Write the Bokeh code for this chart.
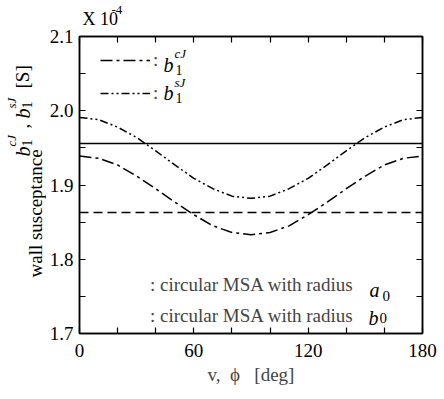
import math
from bokeh.plotting import figure
from bokeh.layouts import row, column
from bokeh.models import (Range1d, FixedTicker, LinearAxis, PrintfTickFormatter,
                          Span, Label, Legend, LegendItem)
from bokeh.embed import file_html
from bokeh.resources import INLINE

# ---- data (values in units of 1e-4 S) ----
phi_deg = [0, 10, 20, 30, 40, 50, 60, 70, 80, 90, 100, 110, 120, 130, 140, 150, 160, 170, 180]
b1_cJ = [1.939, 1.936, 1.927, 1.912, 1.895, 1.877, 1.860, 1.845, 1.836, 1.833,
         1.836, 1.845, 1.860, 1.877, 1.895, 1.912, 1.927, 1.936, 1.939]
b1_sJ = [1.991, 1.988, 1.978, 1.964, 1.946, 1.927, 1.909, 1.895, 1.885, 1.882,
         1.885, 1.895, 1.909, 1.927, 1.946, 1.964, 1.978, 1.988, 1.991]
msa_a0 = 1.956
msa_b0 = 1.863

x_major = [0, 60, 120, 180]
x_minor = [20, 40, 80, 100, 140, 160]
y_major = [1.7, 1.8, 1.9, 2.0, 2.1]
y_minor = [1.75, 1.85, 1.95, 2.05]

FL, FT, FW, FH = 79, 36, 343, 297   # frame left/top/width/height (page px)
W, H = 444, 398
TOPH = 26      # height of the top text strip
LW = 46        # width of the left text strip
FONT = "Liberation Serif"
DY = 6         # baseline correction


def blank_fig(w, h):
    f = figure(width=w, height=h, output_backend="svg", toolbar_location=None,
               x_axis_type=None, y_axis_type=None, min_border=0,
               x_range=Range1d(0, 1), y_range=Range1d(0, 1))
    f.grid.visible = False
    f.outline_line_color = None
    f.background_fill_color = "white"
    f.border_fill_color = "white"
    return f


top_fig = blank_fig(W, TOPH)
left_fig = blank_fig(LW, H - TOPH)

p = figure(width=W - LW, height=H - TOPH, output_backend="svg", toolbar_location=None,
           x_range=Range1d(0, 180), y_range=Range1d(1.7, 2.1),
           min_border_left=FL - LW, min_border_right=W - FL - FW,
           min_border_top=FT - TOPH, min_border_bottom=H - FT - FH,
           background_fill_color="white", border_fill_color="white")
p.grid.visible = False
p.outline_line_color = "black"
p.outline_line_width = 1.5


def style_axis(ax, labels=True):
    ax.axis_line_color = "black"
    ax.axis_line_width = 1.5
    ax.major_tick_in = 6
    ax.major_tick_out = 0
    ax.minor_tick_in = 6
    ax.minor_tick_out = 0
    ax.major_tick_line_width = 1.2
    ax.minor_tick_line_width = 1.2
    ax.major_label_text_font = FONT
    ax.major_label_text_font_size = "19px"
    ax.major_label_text_color = "black"
    if not labels:
        ax.major_label_text_font_size = "0px"
        ax.major_label_text_alpha = 0
        ax.major_label_standoff = 0


p.xaxis.ticker = FixedTicker(ticks=x_major, minor_ticks=x_minor)
p.yaxis.ticker = FixedTicker(ticks=y_major, minor_ticks=y_minor)
p.yaxis.formatter = PrintfTickFormatter(format="%.1f")
p.xaxis.formatter = PrintfTickFormatter(format="%d")
style_axis(p.xaxis[0])
style_axis(p.yaxis[0])
p.xaxis.major_label_standoff = 10
p.yaxis.major_label_standoff = 6
p.xaxis.axis_label = "v,\u00a0\u00a0\u03d5\u00a0\u00a0\u00a0[deg]"
p.xaxis.axis_label_text_font = FONT
p.xaxis.axis_label_text_font_style = "normal"
p.xaxis.axis_label_text_font_size = "19px"
p.xaxis.axis_label_standoff = 4

top = LinearAxis(ticker=FixedTicker(ticks=x_major, minor_ticks=x_minor))
style_axis(top, labels=False)
p.add_layout(top, "above")
right = LinearAxis(ticker=FixedTicker(ticks=y_major, minor_ticks=y_minor))
style_axis(right, labels=False)
p.add_layout(right, "right")

# ---- curves ----
r_cJ = p.line(phi_deg, b1_cJ, line_color="black", line_width=1.5, line_dash="12 4 3 4")
r_sJ = p.line(phi_deg, b1_sJ, line_color="black", line_width=1.5, line_dash="8 3 2 3 2 3")
p.add_layout(Span(location=msa_a0, dimension="width", line_color="black", line_width=1.5))
p.add_layout(Span(location=msa_b0, dimension="width", line_color="black", line_width=1.5,
                  line_dash="9 5"))

# legend proxies for horizontal lines
r_a0 = p.line([], [], line_color="black", line_width=1.5)
r_b0 = p.line([], [], line_color="black", line_width=1.5, line_dash="9 5")


def make_legend(items, loc, spacing, gw):
    lg = Legend(items=items, location=loc, orientation="vertical",
                padding=0, margin=0, spacing=spacing,
                glyph_width=gw, glyph_height=20, label_height=20,
                label_standoff=3, label_text_font=FONT, label_text_font_size="19px",
                border_line_alpha=0, background_fill_alpha=0)
    p.add_layout(lg, "center")


make_legend([LegendItem(label=":", renderers=[r_cJ]),
             LegendItem(label=":", renderers=[r_sJ])], (21, 229), 11, 50)
make_legend([LegendItem(label=": circular MSA with radius", renderers=[r_a0]),
             LegendItem(label=": circular MSA with radius", renderers=[r_b0])], (21, 6), 9, 47)


def lab(fig, ox, oy, px, py, text, size, italic=False, angle=0.0):
    # page coords (origin top-left) -> canvas units of the given figure
    if angle:
        px -= DY
    else:
        py -= DY
    fig.add_layout(Label(x=px - ox, y=py - oy, x_units="canvas", y_units="canvas",
                         text=text, text_font=FONT, text_font_size=f"{size}px",
                         text_font_style="italic" if italic else "normal",
                         text_color="black", angle=angle, text_align="left",
                         text_baseline="alphabetic"))


# legend math pieces (main figure)
M = (p, LW, TOPH)
lab(*M, 163, 70, "b", 20, italic=True)
lab(*M, 174, 59, "cJ", 13, italic=True)
lab(*M, 175, 75, "1", 14)
lab(*M, 163, 98, "b", 20, italic=True)
lab(*M, 174, 88, "sJ", 13, italic=True)
lab(*M, 175, 103, "1", 14)
lab(*M, 369, 295, "a", 20, italic=True)
lab(*M, 382, 301, "0", 15)
lab(*M, 368, 323, "b", 20, italic=True)
lab(*M, 379, 323, "0", 15)

# multiplier (top strip)
T = (top_fig, 0, 0)
lab(*T, 82, 24, "X 10", 18)
lab(*T, 111, 15, "-4", 13)

# rotated y label (left strip)
L = (left_fig, 0, TOPH)
A = math.pi / 2
lab(*L, 41, 277, "wall susceptance", 19, angle=A)
lab(*L, 28, 156, "b", 20, italic=True, angle=A)
lab(*L, 17, 146, "cJ", 13, italic=True, angle=A)
lab(*L, 32, 146, "1", 14, angle=A)
lab(*L, 28, 128, ",", 19, angle=A)
lab(*L, 28, 118, "b", 20, italic=True, angle=A)
lab(*L, 17, 108, "sJ", 13, italic=True, angle=A)
lab(*L, 32, 108, "1", 14, angle=A)
lab(*L, 28, 88, "[S]", 19, angle=A)

layout = column(top_fig, row(left_fig, p, spacing=0), spacing=0)
open("out.html", "w").write(file_html(layout, INLINE))
